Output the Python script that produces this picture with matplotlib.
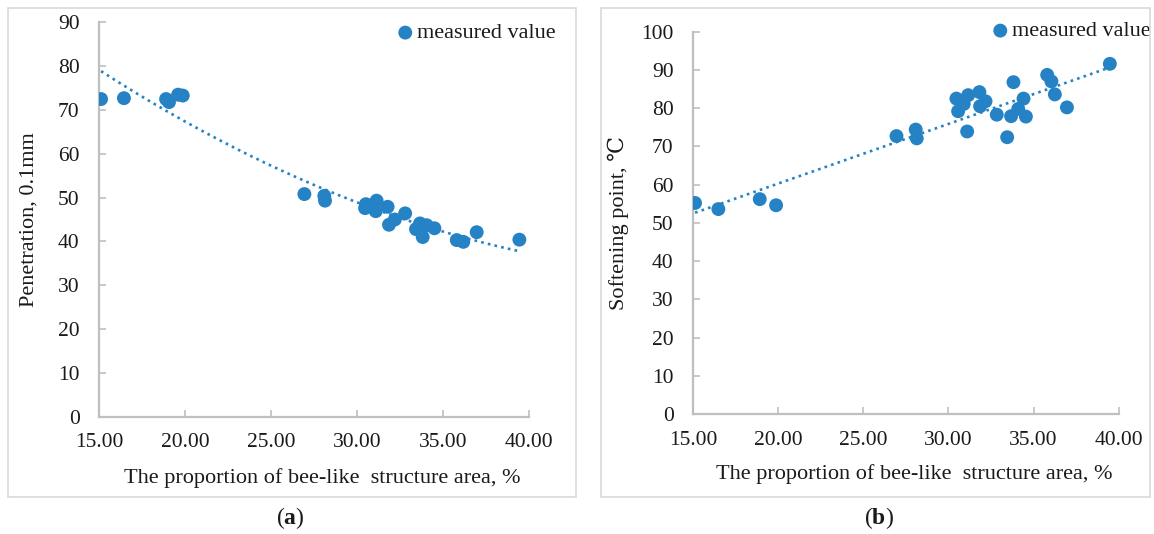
import numpy as np
import matplotlib
matplotlib.use("Agg")
import matplotlib.pyplot as plt
from matplotlib.patches import Rectangle

plt.rcParams["font.family"] = ["Liberation Serif", "DejaVu Serif"]
plt.rcParams["mathtext.fontset"] = "custom"
plt.rcParams["mathtext.rm"] = "Liberation Serif"
plt.rcParams["mathtext.bf"] = "Liberation Serif:bold"

# (a) penetration vs. bee-like structure area
pen_x = [15.12, 16.45, 18.90, 19.07, 19.60, 19.87, 26.94, 28.10, 28.14,
         30.47, 30.52, 31.09, 31.14, 31.78, 31.86, 32.20, 32.80, 33.43,
         33.66, 33.82, 34.05, 34.50, 35.80, 36.18, 36.96, 39.44]
pen_y = [72.5, 72.7, 72.5, 71.8, 73.5, 73.3, 50.8, 50.4, 49.3,
         47.6, 48.5, 46.9, 49.3, 47.9, 43.8, 45.0, 46.4, 42.8,
         44.1, 41.0, 43.7, 43.0, 40.3, 39.9, 42.1, 40.4]

# (b) softening point vs. bee-like structure area
soft_x = [15.12, 16.49, 18.92, 19.88, 26.95, 28.08, 28.14, 30.47, 30.57,
          30.90, 31.10, 31.16, 31.82, 31.86, 32.18, 32.84, 33.45, 33.68,
          33.82, 34.10, 34.41, 34.55, 35.80, 36.05, 36.25, 36.96, 39.48]
soft_y = [55.2, 53.6, 56.2, 54.6, 72.7, 74.4, 72.1, 82.5, 79.2,
          81.1, 73.9, 83.4, 84.2, 80.5, 81.8, 78.3, 72.4, 77.9,
          86.8, 79.8, 82.5, 77.8, 88.7, 87.0, 83.6, 80.2, 91.6]

x_ticks = [15, 20, 25, 30, 35, 40]
pen_ticks = list(range(0, 91, 10))
soft_ticks = list(range(0, 101, 10))

blue = "#2582C4"
grey = "#bfbfbf"
W, H = 1154, 534

fig = plt.figure(figsize=(W / 100, H / 100), dpi=100)


def frac(l, t, r, b):
    return [l / W, 1 - b / H, (r - l) / W, (b - t) / H]


# panel frames
for l, t, r, b in [(8, 8, 576, 497), (601, 8, 1150, 497)]:
    fig.patches.append(Rectangle((l / W, 1 - b / H), (r - l) / W, (b - t) / H,
                                 transform=fig.transFigure, fill=False,
                                 edgecolor="#d9d9d9", linewidth=1.2))


def panel(rect, xs, ys, ticks, deg, ylabel, ylab_x, leg_xy):
    ax = fig.add_axes(frac(*rect))
    ax.scatter(xs, ys, s=100, color=blue, edgecolors="none", zorder=3,
               label="measured value")
    # Excel-style trendline: polynomial fit over the data range
    coef = np.polyfit(xs, ys, deg)
    xx = np.linspace(min(xs), max(xs), 200)
    ax.plot(xx, np.polyval(coef, xx), color=blue, linewidth=1.9,
            linestyle=(0, (1, 1.6)), zorder=2)
    ax.set_xlim(15, 40)
    ax.set_ylim(ticks[0], ticks[-1])
    ax.set_xticks(x_ticks)
    ax.set_xticklabels(["%.2f" % v for v in x_ticks])
    ax.set_yticks(ticks)
    for s in ["top", "right"]:
        ax.spines[s].set_visible(False)
    for s in ["left", "bottom"]:
        ax.spines[s].set_color(grey)
        ax.spines[s].set_linewidth(1.6)
    ax.tick_params(direction="in", length=5, width=1.2, color=grey,
                   labelsize=15.5, labelcolor="#1a1a1a")
    ax.tick_params(axis="y", pad=14)
    ax.tick_params(axis="x", pad=12)
    ax.set_xlabel("The proportion of bee-like  structure area, %",
                  fontsize=16, color="#1a1a1a")
    ax.xaxis.set_label_coords(0.52, -0.13)
    ax.set_ylabel(ylabel, fontsize=16, color="#1a1a1a")
    ax.yaxis.set_label_coords(ylab_x, 0.5)
    ax.legend(loc="upper right", bbox_to_anchor=(leg_xy[0] / W, 1 - leg_xy[1] / H),
              bbox_transform=fig.transFigure, frameon=False, fontsize=16,
              handletextpad=-0.45, borderaxespad=0, markerscale=1.0,
              labelcolor="#1a1a1a")
    ax.patch.set_visible(False)
    return ax


panel((99, 22.4, 529, 416.6), pen_x, pen_y, pen_ticks, 2,
      "Penetration, 0.1mm", -0.14, (565, 14))
panel((693, 31.7, 1118.7, 414), soft_x, soft_y, soft_ticks, 1,
      "Softening point, \u2103", -0.15, (1160, 12))

fig.text(290 / W, 1 - 518 / H, r"($\mathbf{a}$)", ha="center", va="center",
         fontsize=17, color="#1a1a1a")
fig.text(879 / W, 1 - 518 / H, r"($\mathbf{b}$)", ha="center", va="center",
         fontsize=17, color="#1a1a1a")

fig.savefig("out.png", dpi=100)
